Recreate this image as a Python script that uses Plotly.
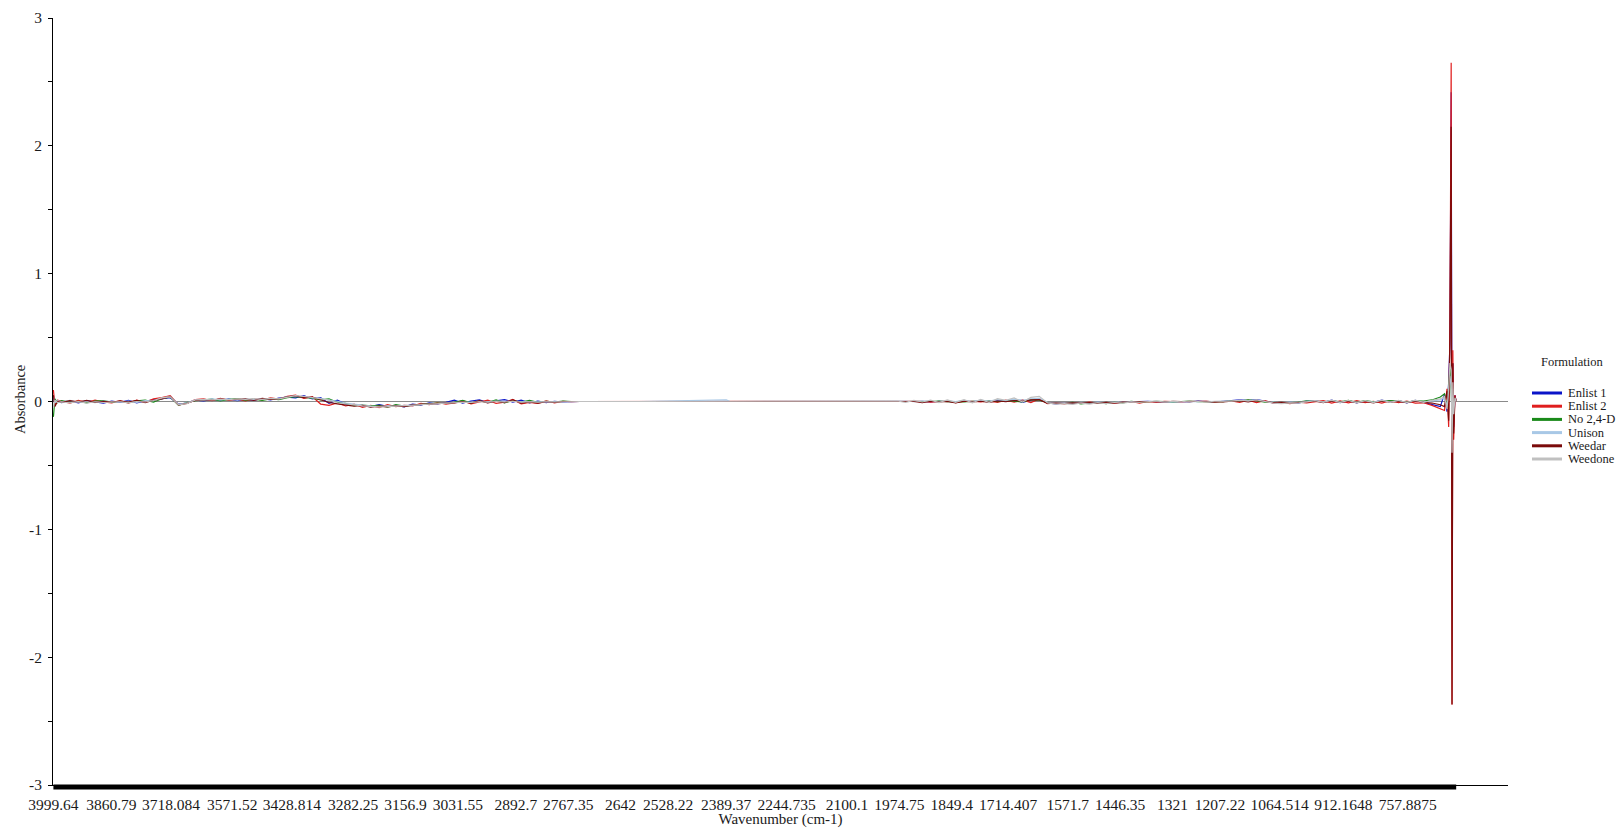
import plotly.graph_objects as go

# Wavenumber grid (cm-1), high to low
wavenumber = [
    3999.64, 3996, 3990, 3980, 3960, 3940, 3920, 3900, 3880, 3860,
    3840, 3820, 3800, 3780, 3760, 3740, 3720, 3700, 3680, 3660,
    3640, 3620, 3600, 3580, 3560, 3540, 3520, 3500, 3480, 3460,
    3440, 3420, 3400, 3380, 3360, 3340, 3320, 3300, 3280, 3260,
    3240, 3220, 3200, 3180, 3160, 3140, 3120, 3100, 3080, 3060,
    3040, 3020, 3000, 2980, 2960, 2940, 2920, 2900, 2880, 2860,
    2840, 2820, 2800, 2780, 2760,
    2740, 2600, 2389, 2380, 2200, 2000,
    1980, 1960, 1940, 1920, 1900, 1880, 1860, 1840, 1820, 1800,
    1780, 1760, 1740, 1720, 1700, 1680, 1660, 1640, 1620, 1600,
    1580, 1560, 1540, 1520, 1500, 1480, 1460, 1440, 1420, 1400,
    1380, 1360, 1340, 1320, 1300, 1280, 1260, 1240, 1220, 1200,
    1180, 1160, 1140, 1120, 1100, 1080, 1060, 1040, 1020, 1000,
    980, 960, 940, 920, 900, 880, 860, 840, 820, 800,
    780, 760, 740, 720, 700, 680,
    670, 664, 660, 657, 654, 652, 650, 648, 645, 642,
]

enlist_1 = [
    0.03, -0.02, 0.005, -0.008, 0.004, -0.01, 0.006, -0.004, -0.012, 0.003,
    -0.006, 0.008, -0.01, 0.004, 0.012, 0.018, 0.03, -0.02, -0.012, 0.01,
    0.004, 0.016, 0.008, 0.02, 0.006, 0.014, 0.01, 0.022, 0.012, 0.026,
    0.035, 0.028, 0.045, 0.02, 0.03, -0.015, 0.01, -0.02, -0.028, -0.035,
    -0.04, -0.025, -0.038, -0.03, -0.042, -0.02, -0.028, -0.01, -0.018, -0.006,
    0.01, -0.012, 0.004, 0.012, -0.008, 0.006, 0.014, -0.004, 0.01, -0.01,
    0.004, -0.008, 0.002, -0.004, 0.0,
    0.0, 0.0, 0.0, 0.0, 0.0, 0.0,
    0.0, 0.002, -0.002, 0.0, -0.004, 0.002, 0.0, -0.002, 0.004, 0.0,
    0.006, -0.004, 0.008, 0.004, 0.012, -0.006, 0.01, 0.016, -0.012, -0.018,
    -0.01, -0.016, -0.008, -0.014, -0.006, -0.012, -0.01, -0.004, -0.002, 0.0,
    0.002, -0.002, 0.0, 0.002, 0.0, -0.002, 0.004, 0.0, -0.004, 0.002,
    0.006, 0.012, 0.008, 0.014, 0.004, -0.01, -0.014, -0.006, -0.012, 0.004,
    0.008, -0.006, 0.01, -0.008, 0.006, -0.01, 0.004, -0.006, 0.01, -0.004,
    0.006, -0.01, 0.008, -0.006, -0.02, -0.04,
    0.06, -0.08, 0.15, 0.45, 2.42, -0.55, 0.3, -0.2, 0.05, 0.0,
]

enlist_2 = [
    0.09, -0.03, 0.01, 0.004, -0.012, 0.008, -0.006, 0.01, -0.004, -0.01,
    0.006, -0.012, 0.01, -0.006, 0.02, 0.03, 0.045, -0.025, -0.015, 0.015,
    0.02, 0.006, 0.024, 0.01, 0.018, 0.004, 0.02, 0.012, 0.028, 0.018,
    0.04, 0.05, 0.025, 0.038, -0.02, -0.03, -0.012, -0.035, -0.02, -0.045,
    -0.03, -0.048, -0.025, -0.04, -0.03, -0.035, -0.015, -0.025, -0.008, -0.02,
    -0.012, 0.006, -0.018, -0.004, 0.01, -0.014, -0.006, 0.016, -0.018, -0.008,
    -0.014, 0.004, -0.01, 0.002, -0.002,
    0.0, 0.0, 0.0, 0.0, 0.0, 0.0,
    0.0, -0.002, 0.0, 0.002, -0.006, 0.0, 0.004, -0.008, 0.0, 0.002,
    -0.004, 0.004, -0.006, 0.01, -0.004, 0.012, -0.008, 0.02, -0.016, -0.01,
    -0.018, -0.008, -0.014, -0.004, -0.012, -0.008, -0.014, -0.006, 0.0, -0.012,
    0.0, -0.006, 0.002, 0.0, -0.004, 0.002, 0.0, 0.004, -0.006, 0.0,
    0.004, -0.006, 0.01, -0.008, 0.006, -0.012, -0.008, -0.016, -0.006, -0.01,
    -0.004, 0.006, -0.012, 0.004, -0.01, 0.006, -0.008, 0.002, -0.012, 0.006,
    -0.008, 0.004, -0.012, -0.01, -0.03, -0.055,
    -0.07, 0.1, -0.2, 0.6, 2.65, -2.37, 0.4, -0.3, 0.05, 0.0,
]

no_24d = [
    -0.12, 0.02, -0.01, 0.006, -0.004, 0.002, -0.01, 0.004, 0.008, -0.006,
    0.002, -0.008, 0.006, 0.01, -0.004, 0.022, 0.035, -0.03, -0.008, 0.006,
    0.012, 0.018, 0.004, 0.016, 0.022, 0.01, 0.018, 0.008, 0.02, 0.014,
    0.03, 0.038, 0.032, 0.026, 0.012, 0.02, -0.006, -0.015, -0.032, -0.028,
    -0.035, -0.03, -0.045, -0.025, -0.036, -0.028, -0.02, -0.016, -0.012, -0.014,
    -0.006, 0.008, -0.01, 0.004, -0.006, 0.012, -0.01, 0.006, -0.004, 0.008,
    -0.006, 0.002, -0.004, 0.003, 0.0,
    0.0, 0.0, 0.0, 0.0, 0.0, 0.0,
    0.0, 0.0, 0.002, -0.002, 0.0, 0.004, -0.002, 0.0, -0.004, 0.002,
    0.0, 0.006, -0.002, 0.008, 0.004, -0.004, 0.014, 0.01, -0.008, -0.014,
    -0.012, -0.006, -0.018, -0.01, -0.008, -0.016, -0.006, -0.01, 0.002, -0.004,
    -0.002, 0.002, 0.0, -0.004, 0.0, 0.004, -0.002, 0.0, 0.0, -0.002,
    0.008, 0.004, 0.012, 0.006, -0.006, -0.004, -0.012, -0.008, -0.004, 0.006,
    0.004, -0.004, 0.006, -0.002, 0.008, -0.006, 0.006, -0.002, 0.004, 0.008,
    0.004, -0.004, 0.006, 0.004, 0.012, 0.035,
    0.06, -0.05, 0.12, 0.27, 0.1, -0.12, 0.06, -0.04, 0.02, 0.0,
]

unison = [
    0.04, -0.01, 0.006, -0.002, 0.008, -0.006, 0.002, -0.008, 0.004, 0.0,
    -0.004, 0.004, -0.006, 0.008, 0.006, 0.025, 0.04, -0.022, -0.01, 0.012,
    0.01, 0.02, 0.012, 0.018, 0.01, 0.02, 0.014, 0.018, 0.02, 0.022,
    0.038, 0.042, 0.036, 0.03, 0.024, 0.01, 0.002, -0.012, -0.02, -0.03,
    -0.036, -0.04, -0.034, -0.038, -0.03, -0.032, -0.022, -0.02, -0.014, -0.01,
    -0.008, -0.004, -0.006, 0.002, -0.002, 0.004, 0.0, 0.004, -0.002, 0.0,
    -0.004, 0.0, -0.002, 0.0, 0.0,
    0.0, 0.0, 0.012, 0.0, 0.0, 0.0,
    0.0, 0.004, -0.002, 0.006, 0.002, -0.004, 0.006, 0.0, 0.008, -0.002,
    0.01, 0.004, 0.014, 0.008, 0.018, 0.01, 0.02, 0.024, -0.006, -0.01,
    -0.008, -0.012, -0.006, -0.01, -0.004, -0.008, -0.006, -0.002, 0.0, -0.002,
    0.0, 0.002, -0.002, 0.0, 0.002, 0.0, -0.002, 0.002, 0.0, 0.004,
    0.004, 0.008, 0.006, 0.01, 0.002, -0.006, -0.01, -0.004, -0.006, 0.002,
    0.004, -0.002, 0.006, -0.004, 0.004, -0.006, 0.002, -0.004, 0.006, -0.002,
    0.004, -0.006, 0.004, -0.004, 0.006, 0.012,
    0.03, -0.04, 0.08, 0.15, 0.2, -0.25, 0.1, -0.06, 0.02, 0.0,
]

weedar = [
    0.05, -0.04, 0.0, -0.006, 0.006, -0.004, 0.008, -0.006, 0.002, -0.004,
    0.004, -0.004, 0.008, -0.008, 0.01, 0.02, 0.038, -0.028, -0.014, 0.008,
    0.014, 0.01, 0.02, 0.012, 0.016, 0.02, 0.008, 0.024, 0.016, 0.02,
    0.036, 0.044, 0.03, 0.034, 0.014, -0.008, -0.018, -0.026, -0.036, -0.03,
    -0.044, -0.036, -0.042, -0.034, -0.04, -0.026, -0.024, -0.018, -0.016, -0.012,
    -0.01, -0.002, -0.012, 0.006, -0.01, 0.002, -0.008, 0.012, -0.012, -0.004,
    -0.012, -0.002, -0.008, 0.0, -0.002,
    0.0, 0.0, 0.0, 0.0, 0.0, 0.0,
    0.0, -0.004, 0.0, -0.008, 0.002, -0.004, 0.0, -0.01, 0.002, -0.004,
    0.002, -0.006, 0.004, -0.002, 0.008, 0.002, 0.012, 0.014, -0.014, -0.012,
    -0.014, -0.01, -0.012, -0.008, -0.014, -0.006, -0.012, -0.004, -0.006, 0.0,
    -0.002, 0.0, -0.004, 0.002, 0.0, -0.002, 0.002, -0.002, 0.0, -0.004,
    0.002, 0.006, -0.004, 0.008, 0.0, -0.008, -0.006, -0.012, -0.008, -0.004,
    0.002, -0.008, 0.004, -0.006, 0.002, -0.008, 0.0, -0.01, 0.004, -0.006,
    0.0, -0.008, 0.004, -0.006, -0.012, -0.025,
    -0.04, 0.08, -0.15, 0.5, 2.15, -2.37, 0.3, -0.25, 0.04, 0.0,
]

weedone = [
    -0.05, 0.01, -0.008, -0.004, -0.01, 0.0, -0.012, -0.002, -0.008, -0.006,
    -0.002, -0.01, 0.0, -0.004, 0.008, 0.028, 0.036, -0.026, -0.016, 0.012,
    0.016, 0.012, 0.018, 0.014, 0.02, 0.016, 0.022, 0.016, 0.024, 0.02,
    0.034, 0.046, 0.04, 0.03, 0.02, 0.012, -0.01, -0.02, -0.026, -0.034,
    -0.038, -0.042, -0.04, -0.036, -0.034, -0.03, -0.026, -0.022, -0.018, -0.014,
    -0.01, -0.006, -0.008, -0.002, -0.006, 0.0, -0.004, 0.002, -0.006, -0.002,
    -0.006, -0.002, -0.004, -0.002, 0.0,
    0.0, 0.0, 0.0, 0.0, 0.0, 0.0,
    0.004, -0.006, 0.008, -0.004, 0.01, -0.008, 0.012, -0.006, 0.014, -0.01,
    0.016, -0.008, 0.022, 0.01, 0.028, -0.004, 0.032, 0.04, -0.012, -0.02,
    -0.016, -0.022, -0.012, -0.02, -0.01, -0.016, -0.008, -0.012, -0.004, -0.006,
    0.0, 0.004, -0.004, 0.002, -0.002, 0.004, 0.0, -0.004, 0.002, 0.0,
    0.002, 0.01, 0.004, 0.012, -0.002, -0.012, -0.016, -0.01, -0.012, -0.002,
    0.006, -0.006, 0.01, -0.008, 0.008, -0.01, 0.006, -0.008, 0.01, -0.006,
    0.008, -0.008, 0.01, -0.006, 0.01, 0.02,
    0.04, -0.06, 0.1, 0.3, 0.25, -0.4, 0.15, -0.1, 0.03, 0.0,
]

formulations = ["Enlist 1", "Enlist 2", "No 2,4-D", "Unison", "Weedar", "Weedone"]
series = [enlist_1, enlist_2, no_24d, unison, weedar, weedone]
colors = ["#0a14c8", "#e01e1e", "#1a8a1a", "#a8c8e6", "#7a0a0a", "#c0c0c0"]

tick_labels = [
    "3999.64", "3860.79", "3718.084", "3571.52", "3428.814", "3282.25",
    "3156.9", "3031.55", "2892.7", "2767.35", "2642", "2528.22",
    "2389.37", "2244.735", "2100.1", "1974.75", "1849.4", "1714.407",
    "1571.7", "1446.35", "1321", "1207.22", "1064.514", "912.1648",
    "757.8875",
]
tick_values = [float(t) for t in tick_labels]

y_ticks = [-3, -2, -1, 0, 1, 2, 3]
y_tick_text = ["-3", "-2", "-1", "0", "1", "2", "3"]

FONT = "Times New Roman, Liberation Serif, DejaVu Serif, serif"
INK = "#1a1a1a"

# Plot area in pixels
L, R, T, B = 53, 1508, 18, 785
W, H = 1617, 828


def px_x(p):
    return (p - L) / (R - L)


def px_y(p):
    return (B - p) / (B - T)


fig = go.Figure()

for name, ys, col in zip(formulations, series, colors):
    fig.add_trace(go.Scatter(
        x=wavenumber, y=ys, mode="lines", name=name,
        line=dict(color=col, width=1.2), showlegend=False,
    ))

# Dense category tick band along the bottom of the data range
fig.add_shape(
    type="line", xref="x", yref="paper",
    x0=wavenumber[0], x1=wavenumber[-1], y0=px_y(787), y1=px_y(787),
    line=dict(color="black", width=5), layer="above",
)

# Legend block: title, swatches and labels
fig.add_annotation(
    xref="paper", yref="paper", x=px_x(1572), y=px_y(362),
    text="Formulation", showarrow=False, xanchor="center", yanchor="middle",
    font=dict(family=FONT, size=12.5, color=INK),
)
for i, (name, col) in enumerate(zip(formulations, colors)):
    yy = 393 + 13.2 * i
    fig.add_shape(
        type="line", xref="paper", yref="paper",
        x0=px_x(1532), x1=px_x(1562), y0=px_y(yy), y1=px_y(yy),
        line=dict(color=col, width=3),
    )
    fig.add_annotation(
        xref="paper", yref="paper", x=px_x(1566), y=px_y(yy),
        text=name, showarrow=False, xanchor="left", yanchor="middle",
        font=dict(family=FONT, size=12.5, color=INK),
    )

# Vertical axis title
fig.add_annotation(
    xref="paper", yref="paper", x=px_x(20), y=px_y(400),
    text="Absorbance", textangle=-90, showarrow=False,
    xanchor="center", yanchor="middle",
    font=dict(family=FONT, size=14.5, color=INK),
)

fig.update_layout(
    width=W, height=H,
    margin=dict(l=L, r=W - R, t=T, b=H - B, autoexpand=False),
    paper_bgcolor="white", plot_bgcolor="white",
    font=dict(family=FONT, size=14, color=INK),
    showlegend=False,
    xaxis=dict(
        range=[4000.6, 518], automargin=False,
        showline=True, linecolor="black", linewidth=1,
        showgrid=False, zeroline=False,
        tickmode="array", tickvals=tick_values, ticktext=tick_labels,
        ticks="", tickfont=dict(size=15.5, family=FONT, color=INK),
        ticklabelstandoff=5,
        title=dict(text="Wavenumber (cm-1)", font=dict(size=15, family=FONT, color=INK)),
    ),
    yaxis=dict(
        range=[-3, 3], automargin=False,
        showline=True, linecolor="black", linewidth=1,
        showgrid=False,
        zeroline=True, zerolinecolor="#8a8a8a", zerolinewidth=1,
        tickmode="array", tickvals=y_ticks, ticktext=y_tick_text,
        ticks="outside", ticklen=4, tickcolor="black",
        minor=dict(tickmode="array", tickvals=[-2.5, -1.5, -0.5, 0.5, 1.5, 2.5],
                   ticks="outside", ticklen=4, tickcolor="black"),
        tickfont=dict(size=15.5, family=FONT, color=INK),
        ticklabelstandoff=3,
    ),
)

fig.write_html("out.html")
